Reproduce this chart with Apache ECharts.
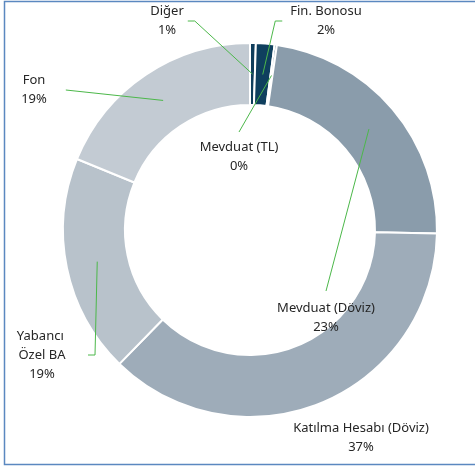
<!DOCTYPE html>
<html>
<head>
<meta charset="utf-8">
<script src="https://cdn.jsdelivr.net/npm/echarts@6/dist/echarts.min.js"></script>
<style>
  html, body { margin: 0; padding: 0; background: #ffffff; }
  #chart { width: 475px; height: 470px; }
</style>
</head>
<body>
<div id="chart"></div>
<script>
// Portfolio distribution (%), clockwise from 12 o'clock
var categories = ['Diğer', 'Fin. Bonosu', 'Mevduat (TL)', 'Mevduat (Döviz)', 'Katılma Hesabı (Döviz)', 'Yabancı Özel BA', 'Fon'];
var shares = [0.5, 1.6, 0.2, 23.0, 37.0, 18.9, 18.8];
var sliceColors = ['#0f3d5b', '#0f3f5e', '#0f3f5e', '#8a9cab', '#9eacb9', '#b8c2cb', '#c3cbd3'];

// Label block centres and how each leader line meets its label
var labelPos = [[167, 21], [326, 21], [239, 157], [326, 318], [361, 438], [42, 355], [34, 90]];
var labelLink = [
  { side: 'right', gap: 4, stub: 7 },
  { side: 'left', gap: 8, stub: 7 },
  { side: 'top', gap: 6, stub: 0 },
  { side: 'top', gap: 8, stub: 0 },
  null,
  { side: 'right', gap: 13, stub: 7 },
  { side: 'right', gap: 19, stub: 0 }
];

var cx = 250, cy = 230, innerR = 125, outerR = 187;
var midR = (innerR + outerR) / 2;

var chart = echarts.init(document.getElementById('chart'), null, { renderer: 'canvas' });

// Coloured ring
var ringData = categories.map(function (name, i) {
  return { name: name, value: shares[i], itemStyle: { color: sliceColors[i] } };
});

// Same slices, transparent, carrying the labels and leader lines above the ring
var labelData = categories.map(function (name, i) {
  var item = { name: name, value: shares[i] };
  if (!labelLink[i]) item.labelLine = { show: false };
  if (name === 'Yabancı Özel BA') item.label = { width: 66, overflow: 'break' };
  return item;
});

var common = {
  type: 'pie',
  center: [cx, cy],
  radius: [innerR, outerR],
  startAngle: 90,
  clockwise: true,
  avoidLabelOverlap: false,
  silent: true,
  emphasis: { disabled: true }
};

chart.setOption({
  animation: false,
  backgroundColor: '#ffffff',
  graphic: [{
    type: 'polyline',
    silent: true,
    shape: { points: [[480, 1.5], [4.5, 1.5], [4.5, 464.5], [480, 464.5]] },
    style: { stroke: '#5b88c0', lineWidth: 1.5, fill: null }
  }],
  series: [
    Object.assign({}, common, {
      z: 2,
      itemStyle: { borderColor: '#ffffff', borderWidth: 2 },
      label: { show: false },
      labelLine: { show: false },
      data: ringData
    }),
    Object.assign({}, common, {
      z: 5,
      itemStyle: { color: 'rgba(0,0,0,0)', borderWidth: 0 },
      label: {
        show: true,
        position: 'outside',
        fontFamily: 'Noto Sans',
        fontSize: 13,
        lineHeight: 19,
        color: '#262626',
        align: 'center',
        formatter: function (p) {
          return p.name + '\n' + Math.round(p.value) + '%';
        }
      },
      labelLine: {
        show: true,
        length: 10,
        length2: 10,
        lineStyle: { color: '#4cb84a', width: 1 }
      },
      labelLayout: function (p) {
        var i = p.dataIndex;
        var pos = labelPos[i];
        var res = { x: pos[0], y: pos[1], align: 'center', verticalAlign: 'middle' };
        var link = labelLink[i];
        if (link && p.labelLinePoints) {
          var p0 = p.labelLinePoints[0];
          var ang = Math.atan2(p0[1] - cy, p0[0] - cx);
          var ax = cx + midR * Math.cos(ang);
          var ay = cy + midR * Math.sin(ang);
          var w = p.labelRect.width, h = p.labelRect.height;
          var tx, ty, bx, by;
          if (link.side === 'right') {
            tx = pos[0] + w / 2 + link.gap; ty = pos[1];
            bx = tx + link.stub; by = ty;
          } else if (link.side === 'left') {
            tx = pos[0] - w / 2 - link.gap; ty = pos[1];
            bx = tx - link.stub; by = ty;
          } else {
            tx = pos[0]; ty = pos[1] - h / 2 - link.gap;
            bx = tx; by = ty - link.stub;
          }
          res.labelLinePoints = [[ax, ay], [bx, by], [tx, ty]];
        }
        return res;
      },
      data: labelData
    })
  ]
});
</script>
</body>
</html>
